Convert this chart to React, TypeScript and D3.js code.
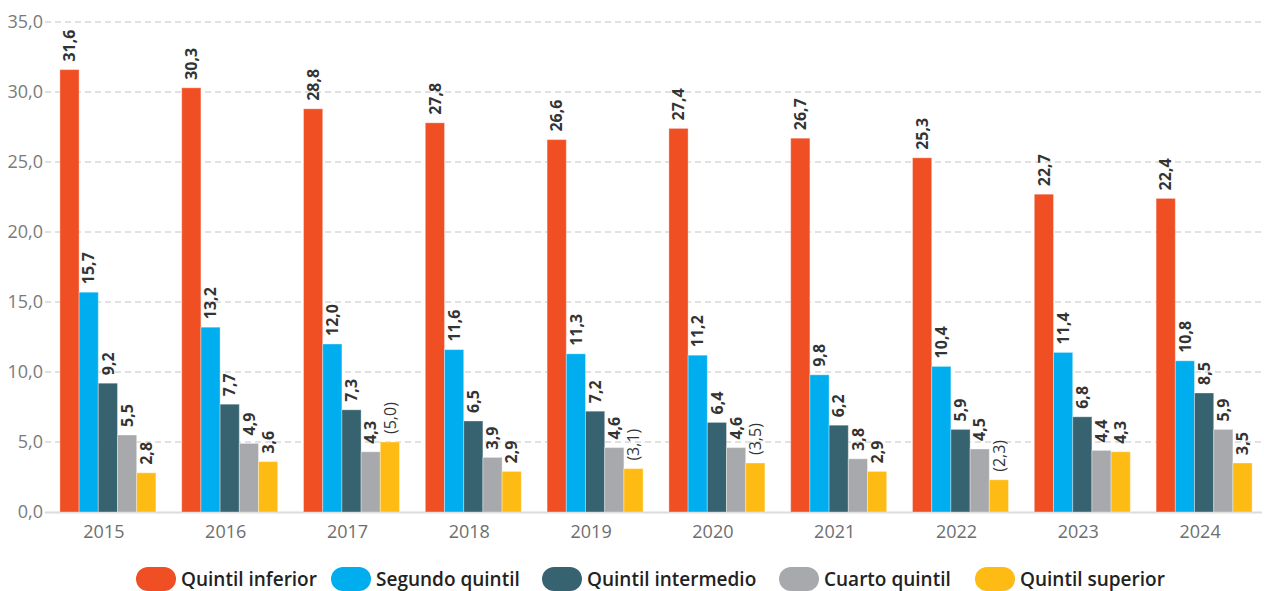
import React from "react";
import * as d3 from "d3";

const years = ["2015", "2016", "2017", "2018", "2019", "2020", "2021", "2022", "2023", "2024"];
const seriesNames = ["Quintil inferior", "Segundo quintil", "Quintil intermedio", "Cuarto quintil", "Quintil superior"];
const seriesColors = ["#F04E23", "#00AEEF", "#36636F", "#A7A9AC", "#FDBB13"];

const inferior = [31.6, 30.3, 28.8, 27.8, 26.6, 27.4, 26.7, 25.3, 22.7, 22.4];
const segundo = [15.7, 13.2, 12.0, 11.6, 11.3, 11.2, 9.8, 10.4, 11.4, 10.8];
const intermedio = [9.2, 7.7, 7.3, 6.5, 7.2, 6.4, 6.2, 5.9, 6.8, 8.5];
const cuarto = [5.5, 4.9, 4.3, 3.9, 4.6, 4.6, 3.8, 4.5, 4.4, 5.9];
const superior = [2.8, 3.6, 5.0, 2.9, 3.1, 3.5, 2.9, 2.3, 4.3, 3.5];
// values shown in parentheses in the source
const superiorParen = [false, false, true, false, true, true, false, true, false, false];

const yTicks = [0, 5, 10, 15, 20, 25, 30, 35];

const seriesValues = [inferior, segundo, intermedio, cuarto, superior];

const W = 1264;
const H = 591;
const gridLeft = 45;
const gridRight = 1262;
const top = 22;
const bottom = 512;

const fmt = (v: number) => v.toFixed(1).replace(".", ",");

export default function App() {
  const x0 = d3.scaleBand<string>().domain(years).range([47, 1265]).paddingInner(0.212).paddingOuter(0.106);
  const x1 = d3.scaleBand<number>().domain(d3.range(5)).range([0, x0.bandwidth()]);
  const y = d3.scaleLinear().domain([0, 35]).range([bottom, top]);

  const legendX = [136, 331, 542, 779, 975];

  return (
    <div style={{ position: "fixed", left: 0, top: 0 }}>
      <svg width={W} height={H} style={{ display: "block", fontFamily: "'Open Sans', sans-serif" }}>
        <rect width={W} height={H} fill="#fff" />
        {yTicks.map((t) => (
          <g key={t}>
            {t > 0 && (
              <line x1={gridLeft} x2={gridRight} y1={y(t)} y2={y(t)} stroke="#C4C4C4" strokeWidth={1.2} strokeDasharray="6,4" />
            )}
            <text x={43} y={y(t)} dy="0.35em" textAnchor="end" fontSize={18} fill="#7A7A7A">
              {fmt(t)}
            </text>
          </g>
        ))}
        <line x1={gridLeft} x2={gridRight} y1={bottom + 0.5} y2={bottom + 0.5} stroke="#DCDCDC" strokeWidth={2} />
        {years.map((yr, i) => (
          <g key={yr} transform={`translate(${x0(yr)},0)`}>
            {seriesValues.map((vals, s) => {
              const v = vals[i];
              const bx = x1(s)!;
              const bw = x1.bandwidth();
              const paren = s === 4 && superiorParen[i];
              const cx = bx + bw / 2;
              const ty = y(v) - 8;
              return (
                <g key={s}>
                  <rect
                    x={bx}
                    y={y(v)}
                    width={bw}
                    height={bottom - y(v)}
                    fill={seriesColors[s]}
                    stroke="#ffffff"
                    strokeOpacity={0.35}
                    strokeWidth={1}
                  />
                  <text
                    transform={`translate(${cx},${ty}) rotate(-90)`}
                    textAnchor="start"
                    dy="0.35em"
                    fontSize={16}
                    fontWeight={paren ? 400 : 700}
                    fill="#333"
                  >
                    {paren ? `(${fmt(v)})` : fmt(v)}
                  </text>
                </g>
              );
            })}
            <text x={x0.bandwidth() / 2 - 4} y={538} textAnchor="middle" fontSize={18} fill="#6E6E6E">
              {yr}
            </text>
          </g>
        ))}
        {seriesNames.map((n, i) => (
          <g key={n} transform={`translate(${legendX[i]},567)`}>
            <rect x={0} y={0} width={40} height={24} rx={12} fill={seriesColors[i]} />
            <text x={45} y={19} fontSize={19} fontWeight={600} fill="#222">
              {n}
            </text>
          </g>
        ))}
      </svg>
    </div>
  );
}
